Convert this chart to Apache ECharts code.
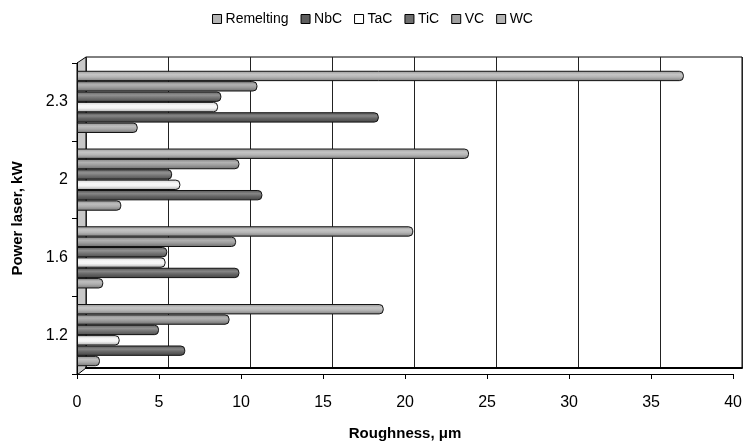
<!DOCTYPE html>
<html>
<head>
<meta charset="utf-8">
<script src="https://cdn.jsdelivr.net/npm/echarts@6/dist/echarts.min.js"></script>
<style>html,body{margin:0;padding:0;background:#fff}#c{width:745px;height:446px}</style>
</head>
<body>
<div id="c"></div>
<script>
const categories = ['1.2', '1.6', '2', '2.3'];
const seriesNames = ['Remelting', 'NbC', 'TaC', 'TiC', 'VC', 'WC'];
const remelting = [1.4, 1.6, 2.7, 3.7];
const nbc = [6.6, 9.9, 11.3, 18.4];
const tac = [2.6, 5.4, 6.3, 8.6];
const tic = [5.0, 5.5, 5.8, 8.8];
const vc = [9.3, 9.7, 9.9, 11.0];
const wc = [18.7, 20.5, 23.9, 37.0];
const xTicks = [0, 5, 10, 15, 20, 25, 30, 35, 40];

const values = [remelting, nbc, tac, tic, vc, wc];
const baseColors = ['#a8a8a8', '#5e5e5e', '#f4f4f4', '#6e6e6e', '#989898', '#b2b2b2'];
const legendColors = ['#b4b4b4', '#5e5e5e', '#ffffff', '#6e6e6e', '#a0a0a0', '#b4b4b4'];

function shade(hex, f) {
  const n = parseInt(hex.slice(1), 16);
  let r = (n >> 16) & 255, g = (n >> 8) & 255, b = n & 255;
  const adj = c => Math.max(0, Math.min(255, Math.round(f >= 0 ? c + (255 - c) * f : c * (1 + f))));
  return 'rgb(' + adj(r) + ',' + adj(g) + ',' + adj(b) + ')';
}
function cyl(hex) {
  return {
    type: 'linear', x: 0, y: 0, x2: 0, y2: 1,
    colorStops: [
      {offset: 0, color: shade(hex, -0.15)},
      {offset: 0.35, color: shade(hex, 0.25)},
      {offset: 0.6, color: shade(hex, 0.05)},
      {offset: 1, color: shade(hex, -0.3)}
    ]
  };
}

const font = 'Liberation Sans, Arial, sans-serif';
const chart = echarts.init(document.getElementById('c'), null, {renderer: 'canvas'});

// ECharts stacks horizontal bar series top-down; reverse so WC is on top like the reference
const series = seriesNames.map((name, i) => ({
  name: name,
  type: 'bar',
  xAxisIndex: 1,
  yAxisIndex: 1,
  data: values[i],
  barGap: '0%',
  barCategoryGap: '20%',
  itemStyle: {
    color: cyl(baseColors[i]),
    borderColor: '#111',
    borderWidth: 1,
    borderRadius: [0, 4, 4, 0]
  },
  emphasis: {disabled: true}
})).reverse();

chart.setOption({
  animation: false,
  backgroundColor: '#fff',
  legend: {
    top: 7,
    left: 'center',
    itemWidth: 9,
    itemHeight: 9,
    itemGap: 12,
    icon: 'rect',
    textStyle: {fontFamily: font, fontSize: 14, color: '#000', padding: [0, 0, 0, -1]},
    data: seriesNames.map((n, i) => ({
      name: n,
      itemStyle: {color: legendColors[i], borderColor: '#000', borderWidth: 1}
    }))
  },
  graphic: [{
    type: 'polygon',
    z: -1,
    shape: {points: [[77, 63], [86, 57], [86, 368], [77, 375]]},
    style: {fill: '#c8c8c8', stroke: '#000', lineWidth: 1}
  }],
  grid: [
    {left: 86, right: 3, top: 57, bottom: 78, show: true, backgroundColor: '#fff', borderColor: '#000', borderWidth: 1, z: -2},
    {left: 77, right: 10, top: 63, bottom: 71}
  ],
  xAxis: [
    {
      gridIndex: 0, type: 'value', min: 0, max: 40, interval: 5,
      axisLine: {show: true, lineStyle: {color: '#000', width: 2}},
      axisTick: {show: false}, axisLabel: {show: false},
      splitLine: {show: true, lineStyle: {color: '#222', width: 1}}
    },
    {
      gridIndex: 1, type: 'value', min: 0, max: 40, interval: 5,
      name: 'Roughness, μm', nameLocation: 'middle', nameGap: 52,
      nameTextStyle: {fontFamily: font, fontSize: 15, fontWeight: 'bold', color: '#000'},
      axisLine: {show: true, lineStyle: {color: '#000', width: 1}},
      axisTick: {show: true, length: 5, lineStyle: {color: '#000'}},
      axisLabel: {fontFamily: font, fontSize: 16, color: '#000', margin: 21,
        formatter: v => xTicks.indexOf(v) >= 0 ? String(v) : ''},
      splitLine: {show: false}
    }
  ],
  yAxis: [
    {
      gridIndex: 0, type: 'category', data: categories,
      axisLine: {show: false}, axisTick: {show: false}, axisLabel: {show: false}, splitLine: {show: false}
    },
    {
      gridIndex: 1, type: 'category', data: categories,
      name: 'Power laser, kW', nameLocation: 'middle', nameGap: 52, nameRotate: 90,
      nameTextStyle: {fontFamily: font, fontSize: 15, fontWeight: 'bold', color: '#000'},
      axisLine: {show: true, lineStyle: {color: '#000', width: 1}},
      axisTick: {show: true, length: 5, lineStyle: {color: '#000'}},
      axisLabel: {fontFamily: font, fontSize: 16, color: '#000', margin: 9},
      splitLine: {show: false}
    }
  ],
  series: series
});
</script>
</body>
</html>
